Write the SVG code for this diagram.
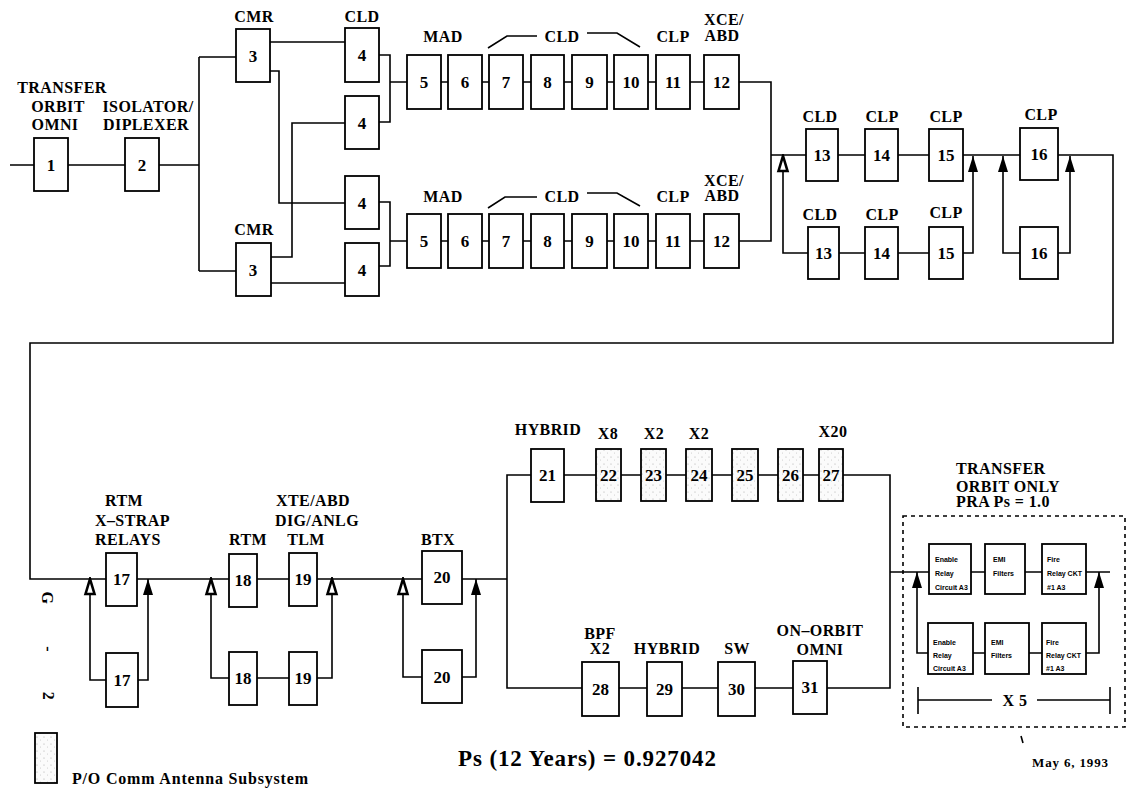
<svg xmlns="http://www.w3.org/2000/svg" width="1129" height="789" viewBox="0 0 1129 789">
<style>
.bx{fill:#fff;stroke:#000;stroke-width:1.8}
.sh{fill:url(#stip);stroke:#000;stroke-width:1.8}
.ln{fill:none;stroke:#000;stroke-width:1.6}
.num{font-family:"Liberation Serif",serif;font-weight:bold;font-size:17px;text-anchor:middle}
.lb{font-family:"Liberation Serif",serif;font-weight:bold;font-size:16px;text-anchor:middle;letter-spacing:0.4px}
.st{text-anchor:start}
.tiny{font-family:"Liberation Sans",sans-serif;font-weight:bold;font-size:7px}
</style>
<defs>
<pattern id="stip" width="7" height="7" patternUnits="userSpaceOnUse">
<rect width="7" height="7" fill="#fbfbfb"/>
<circle cx="2" cy="2" r="0.6" fill="#aaa"/>
<circle cx="5.5" cy="5" r="0.5" fill="#c4c4c4"/>
</pattern>
<marker id="af" viewBox="0 0 16 10" refX="16" refY="5" markerWidth="16" markerHeight="10" markerUnits="userSpaceOnUse" orient="auto">
<path d="M0,0 L16,5 L0,10 Z" fill="#000"/>
</marker>
<marker id="ah" viewBox="-2 -2 20 14" refX="16" refY="5" markerWidth="20" markerHeight="14" markerUnits="userSpaceOnUse" orient="auto">
<path d="M1,0.5 L16,5 L1,9.5 Z" fill="#fff" stroke="#000" stroke-width="2.6" stroke-linejoin="miter"/>
</marker>
</defs>
<rect width="1129" height="789" fill="#fff"/>

<g id="connectors">
<path class="ln" d="M10,165 H199 M199,57 V271 M199,57 H236 M199,271 H236"/>
<path class="ln" d="M270,42 H345 M270,71 H279 V203 H345 M271,257 H292 V123 H345 M271,283 H345"/>
<path class="ln" d="M379,55 H390 V122 H379 M379,202 H390 V266 H379"/>
<path class="ln" d="M390,82 H771 V241 H390"/>
<path class="ln" d="M771,155 H1113 V343 H30 V579 H507"/>
<path class="ln" d="M808,253 H783 V156" marker-end="url(#ah)"/>
<path class="ln" d="M808,253 H973 V156" marker-end="url(#af)"/>
<path class="ln" d="M1020,253 H1003 V156" marker-end="url(#af)"/>
<path class="ln" d="M1058,253 H1070 V156" marker-end="url(#af)"/>
<path class="ln" d="M106,680 H90 V579" marker-end="url(#ah)"/>
<path class="ln" d="M138,680 H148 V579" marker-end="url(#af)"/>
<path class="ln" d="M229,678 H211 V579" marker-end="url(#ah)"/>
<path class="ln" d="M229,678 H332 V579" marker-end="url(#ah)"/>
<path class="ln" d="M422,677 H403 V579" marker-end="url(#ah)"/>
<path class="ln" d="M462,677 H476 V579" marker-end="url(#af)"/>
<path class="ln" d="M507,475 V688 H890 V475 Z"/>
<path class="ln" d="M890,572 H1110"/>
<path class="ln" d="M928,653 H917 V572" marker-end="url(#af)"/>
<path class="ln" d="M928,653 H1099 V572" marker-end="url(#af)"/>
<path class="ln" d="M488,48 L507,36 H537 M587,33 H617 L640,47"/>
<path class="ln" d="M488,208 L505,197 H537 M587,193 H617 L640,206"/>
</g>

<g id="n1"><rect class="bx" x="34" y="138" width="34" height="53"/><text class="num" x="51" y="171">1</text></g>
<g id="n2"><rect class="bx" x="125" y="138" width="34" height="53"/><text class="num" x="142" y="171">2</text></g>
<g id="n3a"><rect class="bx" x="236" y="29" width="34" height="53"/><text class="num" x="253" y="62">3</text></g>
<g id="n3b"><rect class="bx" x="236" y="243" width="35" height="53"/><text class="num" x="253" y="276">3</text></g>
<g id="n4a"><rect class="bx" x="345" y="28" width="34" height="54"/><text class="num" x="362" y="61">4</text></g>
<g id="n4b"><rect class="bx" x="345" y="96" width="34" height="53"/><text class="num" x="362" y="129">4</text></g>
<g id="n4c"><rect class="bx" x="345" y="176" width="34" height="53"/><text class="num" x="362" y="209">4</text></g>
<g id="n4d"><rect class="bx" x="345" y="243" width="34" height="53"/><text class="num" x="362" y="276">4</text></g>

<g id="n5a"><rect class="bx" x="407" y="55" width="34" height="54"/><text class="num" x="424" y="88">5</text></g>
<g id="n6a"><rect class="bx" x="448" y="55" width="34" height="54"/><text class="num" x="465" y="88">6</text></g>
<g id="n7a"><rect class="bx" x="489" y="55" width="34" height="54"/><text class="num" x="506" y="88">7</text></g>
<g id="n8a"><rect class="bx" x="531" y="55" width="33" height="54"/><text class="num" x="547.5" y="88">8</text></g>
<g id="n9a"><rect class="bx" x="572" y="55" width="35" height="54"/><text class="num" x="589.5" y="88">9</text></g>
<g id="n10a"><rect class="bx" x="614" y="55" width="34" height="54"/><text class="num" x="631" y="88">10</text></g>
<g id="n11a"><rect class="bx" x="656" y="55" width="34" height="54"/><text class="num" x="673" y="88">11</text></g>
<g id="n12a"><rect class="bx" x="704" y="55" width="35" height="54"/><text class="num" x="721.5" y="88">12</text></g>

<g id="n5b"><rect class="bx" x="407" y="214" width="34" height="54"/><text class="num" x="424" y="247">5</text></g>
<g id="n6b"><rect class="bx" x="448" y="214" width="34" height="54"/><text class="num" x="465" y="247">6</text></g>
<g id="n7b"><rect class="bx" x="489" y="214" width="34" height="54"/><text class="num" x="506" y="247">7</text></g>
<g id="n8b"><rect class="bx" x="531" y="214" width="33" height="54"/><text class="num" x="547.5" y="247">8</text></g>
<g id="n9b"><rect class="bx" x="572" y="214" width="35" height="54"/><text class="num" x="589.5" y="247">9</text></g>
<g id="n10b"><rect class="bx" x="614" y="214" width="34" height="54"/><text class="num" x="631" y="247">10</text></g>
<g id="n11b"><rect class="bx" x="656" y="214" width="34" height="54"/><text class="num" x="673" y="247">11</text></g>
<g id="n12b"><rect class="bx" x="704" y="214" width="35" height="54"/><text class="num" x="721.5" y="247">12</text></g>

<g id="n13a"><rect class="bx" x="806" y="129" width="32" height="52"/><text class="num" x="822" y="161">13</text></g>
<g id="n14a"><rect class="bx" x="865" y="129" width="33" height="52"/><text class="num" x="881.5" y="161">14</text></g>
<g id="n15a"><rect class="bx" x="929" y="129" width="34" height="52"/><text class="num" x="946" y="161">15</text></g>
<g id="n16a"><rect class="bx" x="1020" y="128" width="38" height="52"/><text class="num" x="1039" y="160">16</text></g>
<g id="n13b"><rect class="bx" x="808" y="227" width="31" height="52"/><text class="num" x="823.5" y="259">13</text></g>
<g id="n14b"><rect class="bx" x="865" y="227" width="33" height="52"/><text class="num" x="881.5" y="259">14</text></g>
<g id="n15b"><rect class="bx" x="929" y="227" width="34" height="52"/><text class="num" x="946" y="259">15</text></g>
<g id="n16b"><rect class="bx" x="1020" y="227" width="38" height="52"/><text class="num" x="1039" y="259">16</text></g>

<g id="n17a"><rect class="bx" x="106" y="553" width="31" height="53"/><text class="num" x="121.5" y="585">17</text></g>
<g id="n17b"><rect class="bx" x="106" y="653" width="32" height="54"/><text class="num" x="122" y="686">17</text></g>
<g id="n18a"><rect class="bx" x="229" y="554" width="28" height="53"/><text class="num" x="243" y="586">18</text></g>
<g id="n18b"><rect class="bx" x="229" y="652" width="28" height="53"/><text class="num" x="243" y="684">18</text></g>
<g id="n19a"><rect class="bx" x="289" y="553" width="28" height="53"/><text class="num" x="303" y="585">19</text></g>
<g id="n19b"><rect class="bx" x="289" y="652" width="28" height="53"/><text class="num" x="303" y="684">19</text></g>
<g id="n20a"><rect class="bx" x="422" y="551" width="40" height="53"/><text class="num" x="442" y="583">20</text></g>
<g id="n20b"><rect class="bx" x="422" y="650" width="40" height="53"/><text class="num" x="442" y="683">20</text></g>

<g id="n21"><rect class="bx" x="531" y="449" width="33" height="53"/><text class="num" x="547.5" y="481">21</text></g>
<g id="n22"><rect class="sh" x="596" y="449" width="25" height="52"/><text class="num" x="608.5" y="481">22</text></g>
<g id="n23"><rect class="sh" x="641" y="449" width="25" height="52"/><text class="num" x="653.5" y="481">23</text></g>
<g id="n24"><rect class="sh" x="686" y="449" width="26" height="52"/><text class="num" x="699" y="481">24</text></g>
<g id="n25"><rect class="sh" x="732" y="449" width="26" height="52"/><text class="num" x="745" y="481">25</text></g>
<g id="n26"><rect class="sh" x="778" y="449" width="25" height="52"/><text class="num" x="790.5" y="481">26</text></g>
<g id="n27"><rect class="sh" x="819" y="449" width="24" height="52"/><text class="num" x="831" y="481">27</text></g>

<g id="n28"><rect class="bx" x="582" y="662" width="37" height="54"/><text class="num" x="600.5" y="695">28</text></g>
<g id="n29"><rect class="bx" x="647" y="662" width="35" height="54"/><text class="num" x="664.5" y="695">29</text></g>
<g id="n30"><rect class="bx" x="718" y="662" width="37" height="54"/><text class="num" x="736.5" y="695">30</text></g>
<g id="n31"><rect class="bx" x="793" y="661" width="34" height="53"/><text class="num" x="810" y="693">31</text></g>

<g id="pra">
<rect x="903" y="516" width="222" height="211" fill="none" stroke="#000" stroke-width="1.6" stroke-dasharray="4,4"/>
<g id="e1"><rect class="bx" x="929" y="544" width="42" height="50"/><text class="tiny" x="935" y="562">Enable</text><text class="tiny" x="935" y="576">Relay</text><text class="tiny" x="935" y="590">Circuit A3</text></g>
<g id="m1"><rect class="bx" x="985" y="544" width="40" height="50"/><text class="tiny" x="993" y="562">EMI</text><text class="tiny" x="993" y="576">Filters</text></g>
<g id="f1"><rect class="bx" x="1042" y="544" width="44" height="50"/><text class="tiny" x="1047" y="562">Fire</text><text class="tiny" x="1047" y="576">Relay CKT</text><text class="tiny" x="1047" y="590">#1  A3</text></g>
<g id="e2"><rect class="bx" x="928" y="623" width="45" height="51"/><text class="tiny" x="933" y="645">Enable</text><text class="tiny" x="933" y="658">Relay</text><text class="tiny" x="933" y="671">Circuit A3</text></g>
<g id="m2"><rect class="bx" x="985" y="623" width="44" height="51"/><text class="tiny" x="991" y="645">EMI</text><text class="tiny" x="991" y="658">Filters</text></g>
<g id="f2"><rect class="bx" x="1042" y="623" width="44" height="51"/><text class="tiny" x="1046" y="645">Fire</text><text class="tiny" x="1046" y="658">Relay CKT</text><text class="tiny" x="1046" y="671">#1  A3</text></g>
<path class="ln" d="M918,687 V714 M1110,687 V714 M918,700 H992 M1037,700 H1110"/>
<text class="lb" x="1015" y="706">X 5</text>
</g>

<g id="labels">
<text class="lb" x="62" y="93">TRANSFER</text>
<text class="lb" x="58" y="112">ORBIT</text>
<text class="lb" x="55" y="130">OMNI</text>
<text class="lb" x="148" y="112">ISOLATOR/</text>
<text class="lb" x="146" y="130">DIPLEXER</text>
<text class="lb" x="254" y="22">CMR</text>
<text class="lb" x="254" y="235">CMR</text>
<text class="lb" x="362" y="22">CLD</text>
<text class="lb" x="443" y="42">MAD</text>
<text class="lb" x="562" y="42">CLD</text>
<text class="lb" x="673" y="42">CLP</text>
<text class="lb" x="724" y="25">XCE/</text>
<text class="lb" x="722" y="41">ABD</text>
<text class="lb" x="443" y="202">MAD</text>
<text class="lb" x="562" y="202">CLD</text>
<text class="lb" x="673" y="202">CLP</text>
<text class="lb" x="724" y="186">XCE/</text>
<text class="lb" x="722" y="201">ABD</text>
<text class="lb" x="820" y="122">CLD</text>
<text class="lb" x="882" y="122">CLP</text>
<text class="lb" x="946" y="122">CLP</text>
<text class="lb" x="1041" y="120">CLP</text>
<text class="lb" x="820" y="220">CLD</text>
<text class="lb" x="882" y="220">CLP</text>
<text class="lb" x="946" y="218">CLP</text>
<text class="lb" x="124" y="506">RTM</text>
<text class="lb st" x="95" y="526">X–STRAP</text>
<text class="lb st" x="95" y="545">RELAYS</text>
<text class="lb" x="248" y="545">RTM</text>
<text class="lb" x="313" y="506">XTE/ABD</text>
<text class="lb" x="317" y="526">DIG/ANLG</text>
<text class="lb" x="306" y="545">TLM</text>
<text class="lb" x="438" y="545">BTX</text>
<text class="lb" x="548" y="435">HYBRID</text>
<text class="lb" x="608" y="439">X8</text>
<text class="lb" x="654" y="439">X2</text>
<text class="lb" x="699" y="439">X2</text>
<text class="lb" x="833" y="437">X20</text>
<text class="lb" x="600" y="639">BPF</text>
<text class="lb" x="600" y="654">X2</text>
<text class="lb" x="667" y="654">HYBRID</text>
<text class="lb" x="737" y="654">SW</text>
<text class="lb" x="820" y="636">ON–ORBIT</text>
<text class="lb" x="820" y="655">OMNI</text>
<text class="lb st" x="956" y="474" style="font-size:16px">TRANSFER</text>
<text class="lb st" x="956" y="492" style="font-size:16px">ORBIT ONLY</text>
<text class="lb st" x="956" y="507" style="font-size:16px">PRA Ps = 1.0</text>
</g>

<g id="page-number">
<text class="lb" transform="translate(47,598) rotate(90)" x="0" y="5">G</text>
<text class="lb" transform="translate(48,649) rotate(90)" x="0" y="5">-</text>
<text class="lb" transform="translate(48,696) rotate(90)" x="0" y="5">2</text>
</g>

<g id="legend">
<rect class="sh" x="35" y="733" width="22" height="50"/>
<text class="lb st" x="72" y="784" style="font-size:16px;letter-spacing:0" textLength="236">P/O Comm Antenna Subsystem</text>
</g>

<text x="458" y="766" style="font-family:'Liberation Serif',serif;font-size:23px;font-weight:bold" textLength="258">Ps (12 Years) = 0.927042</text>
<text class="lb st" x="1032" y="767" style="font-size:13px;letter-spacing:0" textLength="76">May 6, 1993</text>
<path class="ln" d="M1021,736 L1023,743" stroke-width="1"/>
</svg>
